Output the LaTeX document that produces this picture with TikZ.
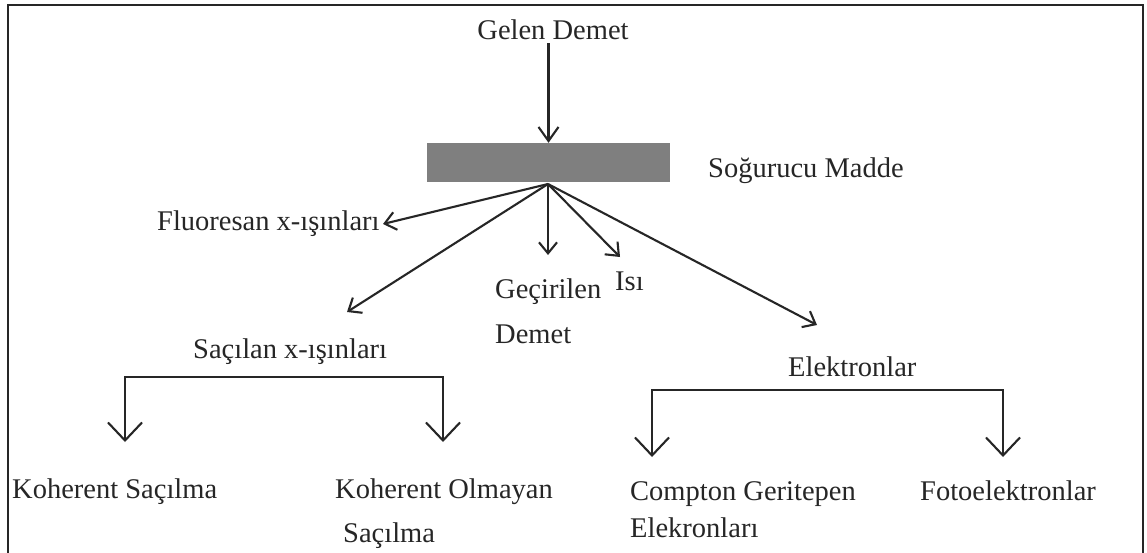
\documentclass[tikz,border=0pt]{standalone}
\usepackage{fontspec}
\setmainfont{Liberation Serif}
\usetikzlibrary{arrows.meta}
\definecolor{ink}{HTML}{262626}
\definecolor{slab}{HTML}{7F7F7F}
\begin{document}
\begin{tikzpicture}[x=1pt,y=-1pt,
  lbl/.style={inner sep=0pt,font=\fontsize{28.5}{32}\selectfont,text=ink},
  arr/.style={draw=ink,line width=2.1pt,-{Straight Barb[length=14pt,width=20pt,line width=2.1pt]}},
  ray/.style={draw=ink,line width=2.1pt,-{Straight Barb[length=11pt,width=18pt,line width=2.1pt]}},
  brk/.style={draw=ink,line width=2.1pt,{Straight Barb[length=18pt,width=34pt,line width=2.1pt]}-{Straight Barb[length=18pt,width=34pt,line width=2.1pt]}},
  frame/.style={draw=ink,line width=2pt}]
\useasboundingbox (0,0) rectangle (1147,553);
\fill[white] (0,0) rectangle (1147,553);
\draw[frame] (7.5,600) -- (7.5,5.5) -- (1143,5.5) -- (1143,600);

% nodes
\node[lbl,anchor=base] (gelen) at (553,40) {Gelen Demet};
\node[fill=slab,draw=none,minimum width=243pt,minimum height=39pt,inner sep=0pt] (madde) at (548.5,162.5) {};
\node[lbl,anchor=base west] (sogurucu) at (708,178) {Soğurucu Madde};
\node[lbl,anchor=base west] (fluor) at (157,230) {Fluoresan x-ışınları};
\node[lbl,anchor=base west] (sacilan) at (193,358) {Saçılan x-ışınları};
\node[lbl,anchor=base west] (gecirilen) at (495,298) {Geçirilen};
\node[lbl,anchor=base west] (gecirilen2) at (495,343) {Demet};
\node[lbl,anchor=base west] (isi) at (615,290) {Isı};
\node[lbl,anchor=base west] (elektron) at (788,376) {Elektronlar};
\node[lbl,anchor=base west] (koh) at (12,498) {Koherent Saçılma};
\node[lbl,anchor=base west] (kohol) at (335,498) {Koherent Olmayan};
\node[lbl,anchor=base west] (kohol2) at (343,542) {Saçılma};
\node[lbl,anchor=base west] (compton) at (630,500) {Compton Geritepen};
\node[lbl,anchor=base west] (compton2) at (630,537) {Elekronları};
\node[lbl,anchor=base west] (foto) at (920,500) {Fotoelektronlar};

% arrow end points
\coordinate (src) at (548,184);
\coordinate (tfluor) at (383,224);
\coordinate (tsac) at (347,312);
\coordinate (tgec) at (548,255);
\coordinate (tisi) at (620,257);
\coordinate (telek) at (817,325);
\coordinate (kl) at (125,442);
\coordinate (kr) at (443,442);
\coordinate (el) at (652,457);
\coordinate (er) at (1003,457);

% connectors
\draw[arr] (gelen.south -| madde.north) ++(0,3) -- (madde.north);
\draw[ray] (src) -- (tfluor);
\draw[ray] (src) -- (tsac);
\draw[ray] (src) -- (tgec);
\draw[ray] (src) -- (tisi);
\draw[ray] (src) -- (telek);
\draw[brk] (kl) -- ++(0,-65) -| (kr);
\draw[brk] (el) -- ++(0,-67) -| (er);
\end{tikzpicture}
\end{document}
